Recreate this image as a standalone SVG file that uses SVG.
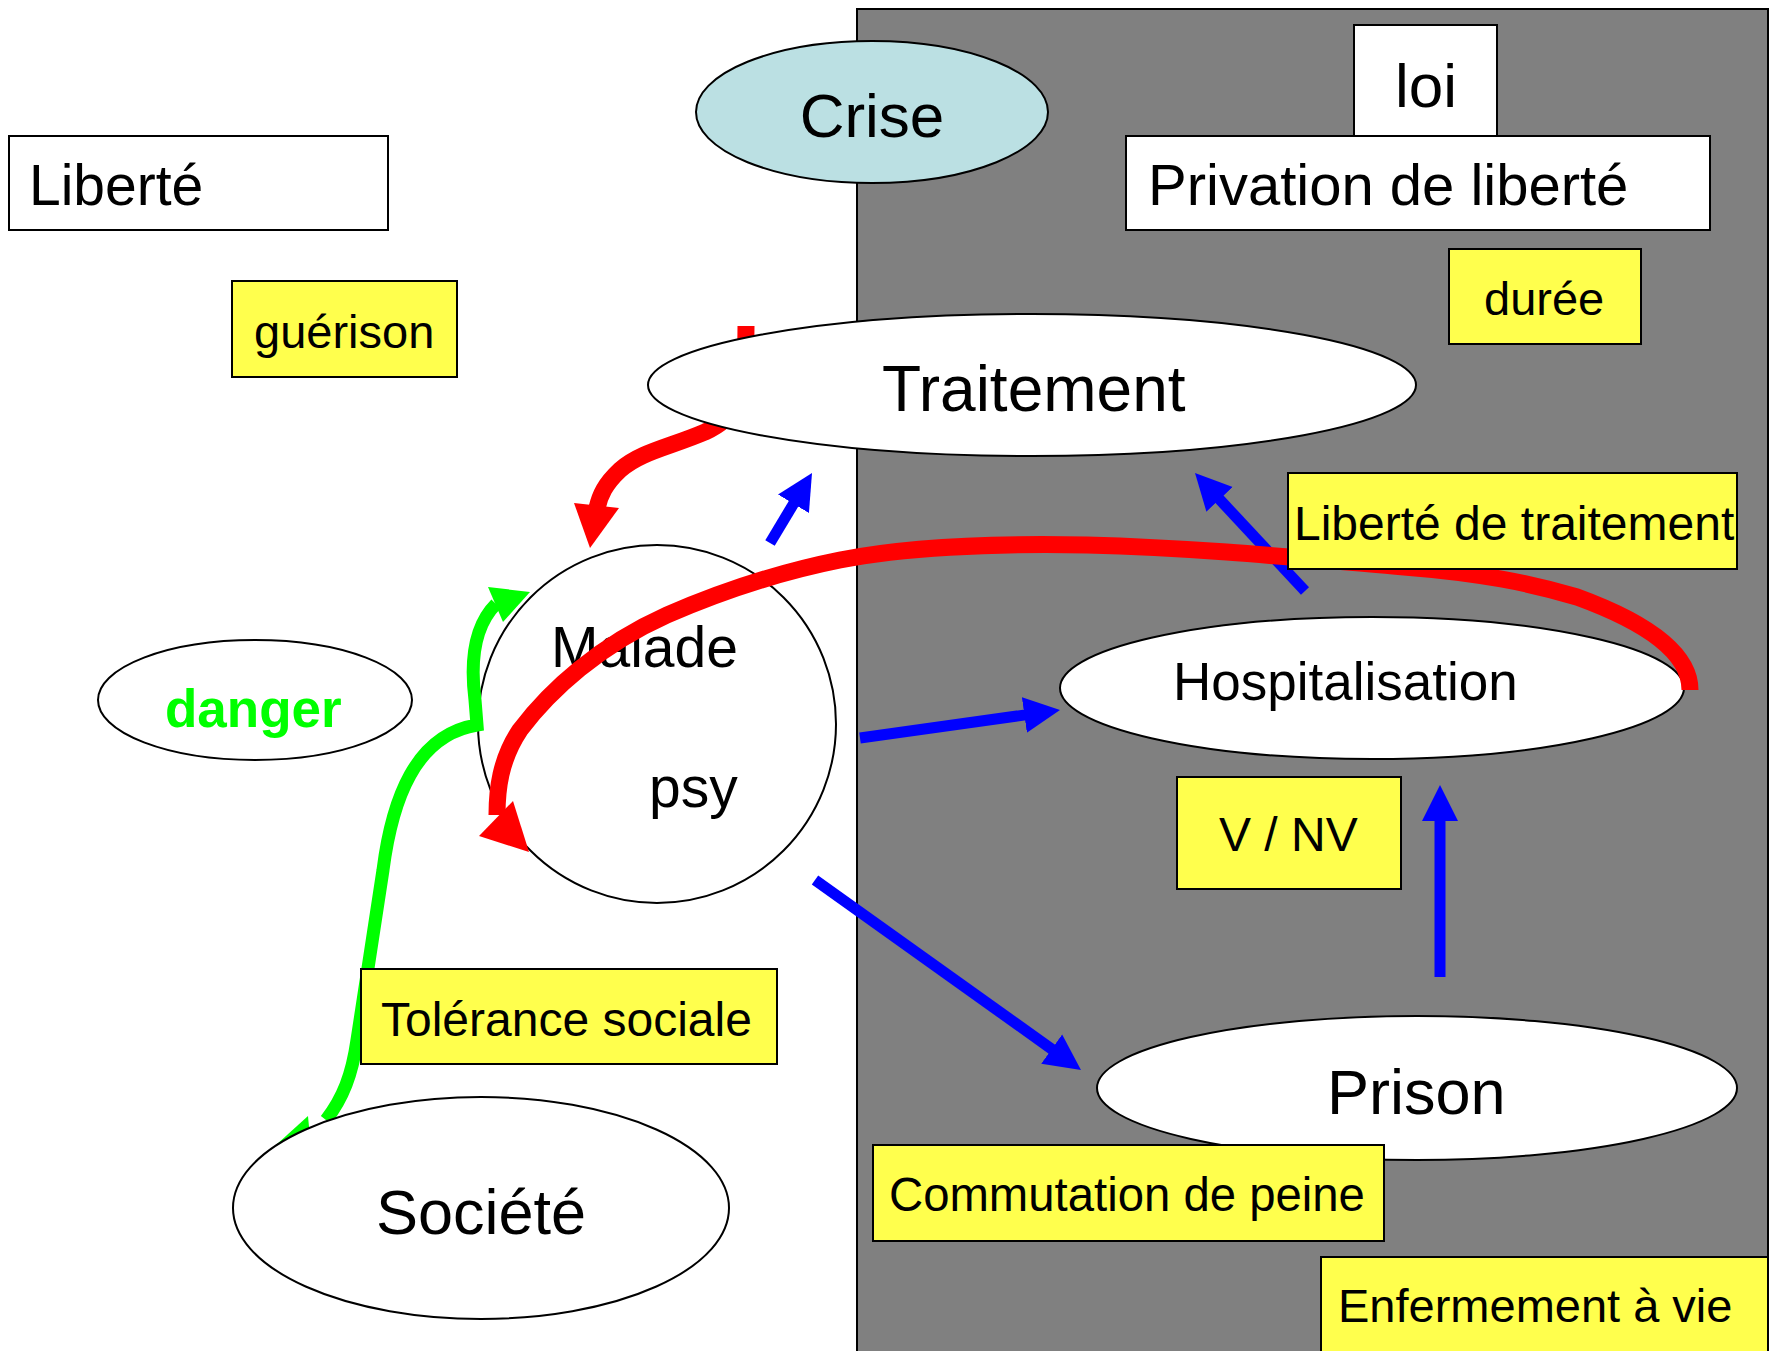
<svg xmlns="http://www.w3.org/2000/svg" width="1775" height="1351" viewBox="0 0 1775 1351">
<defs>
<style>
text{font-family:"Liberation Sans",Arial,sans-serif;fill:#000}
.box{fill:#fff;stroke:#000;stroke-width:2}
.ybox{fill:#FFFF4D;stroke:#000;stroke-width:2}
.ell{fill:#fff;stroke:#000;stroke-width:2}
.blue{stroke:#0000FF;stroke-width:11;fill:none;marker-end:url(#bh)}
.red{stroke:#FF0000;stroke-width:17;fill:none}
.green{stroke:#00FF00;stroke-width:13;fill:none}
</style>
<marker id="bh" markerUnits="userSpaceOnUse" markerWidth="40" markerHeight="40" viewBox="0 -20 40 40" refX="8" refY="0" orient="auto">
<path d="M0,-18 L36,0 L0,18 z" fill="#0000FF"/>
</marker>
</defs>
<rect id="zone" x="857" y="9" width="911" height="1360" fill="#808080" stroke="#000" stroke-width="2"/>
<g id="crise"><ellipse cx="872" cy="112" rx="176" ry="71" fill="#BBE0E3" stroke="#000" stroke-width="2"/><text x="872" y="137" font-size="62" text-anchor="middle">Crise</text></g>
<g id="loi"><rect class="box" x="1354" y="25" width="143" height="112"/><text x="1395" y="107" font-size="62">loi</text></g>
<g id="privation"><rect class="box" x="1126" y="136" width="584" height="94"/><text x="1148" y="205" font-size="58">Privation de liberté</text></g>
<g id="liberte"><rect class="box" x="9" y="136" width="379" height="94"/><text x="29" y="205" font-size="57">Liberté</text></g>
<g id="guerison"><rect class="ybox" x="232" y="281" width="225" height="96"/><text x="254" y="348" font-size="47">guérison</text></g>
<g id="duree"><rect class="ybox" x="1449" y="249" width="192" height="95"/><text x="1484" y="315" font-size="47">durée</text></g>
<g id="danger"><ellipse class="ell" cx="255" cy="700" rx="157" ry="60"/><text x="165" y="727" font-size="53" font-weight="bold" style="fill:#00FF00">danger</text></g>
<g id="malade"><circle class="ell" cx="657" cy="724" r="179"/><text x="551" y="667" font-size="57">Malade</text><text x="649" y="807" font-size="57">psy</text></g>
<g id="hospitalisation"><ellipse class="ell" cx="1372" cy="688" rx="312" ry="71"/><text x="1173" y="700" font-size="53">Hospitalisation</text></g>
<g id="vnv"><rect class="ybox" x="1177" y="777" width="224" height="112"/><text x="1219" y="851" font-size="48">V / NV</text></g>
<g id="prison"><ellipse class="ell" cx="1417" cy="1088" rx="320" ry="72"/><text x="1327" y="1114" font-size="63">Prison</text></g>
<g id="commutation"><rect class="ybox" x="873" y="1145" width="511" height="96"/><text x="889" y="1211" font-size="47.3">Commutation de peine</text></g>
<g id="enfermement"><rect class="ybox" x="1321" y="1257" width="447" height="110"/><text x="1338" y="1322" font-size="47">Enfermement à vie</text></g>
<g id="connectors">
<path class="red" d="M746,326 C746,400 735,418 705,432 C670,447 640,452 620,470 C605,484 600,495 597,508"/>
<polygon points="574,503 619,508 590,548" fill="#FF0000"/>
<path class="green" d="M326,1120 C343,1098 352,1075 357,1040 L383,870 C392,800 415,735 477,725 L475,700 C470,660 475,625 496,604"/>
<polygon points="488,587 503,622 530,592" fill="#00FF00"/>
<polygon points="308,1116 265,1155 312,1160" fill="#00FF00"/>
<line class="blue" x1="770" y1="543" x2="797.6" y2="497"/>
<line class="blue" x1="860" y1="738" x2="1032.3" y2="713.9"/>
<line class="blue" x1="1305" y1="591" x2="1214.1" y2="493.5"/>
<line class="blue" x1="1440" y1="977" x2="1440" y2="813"/>
<line class="blue" x1="815" y1="880" x2="1058.2" y2="1053.7"/>
<path class="red" d="M1690,690 C1690,650 1640,620 1577,597 C1530,583 1480,573 1404,567 C1300,558 1200,548 1087,545 C990,543 900,548 840,560 C780,572 720,592 667,615 C600,645 550,690 520,730 C500,760 497,790 497,815"/>
<polygon points="479,836 513,801 529,852" fill="#FF0000"/>
</g>
<g id="traitement"><ellipse class="ell" cx="1032" cy="385" rx="384" ry="71"/><text x="882" y="411" font-size="64">Traitement</text></g>
<g id="societe"><ellipse class="ell" cx="481" cy="1208" rx="248" ry="111"/><text x="376" y="1234" font-size="63">Société</text></g>
<g id="tolerance"><rect class="ybox" x="361" y="969" width="416" height="95"/><text x="381" y="1036" font-size="48">Tolérance sociale</text></g>
<g id="liberte-traitement"><rect class="ybox" x="1288" y="473" width="449" height="96"/><text x="1294" y="540" font-size="48">Liberté de traitement</text></g>
</svg>
